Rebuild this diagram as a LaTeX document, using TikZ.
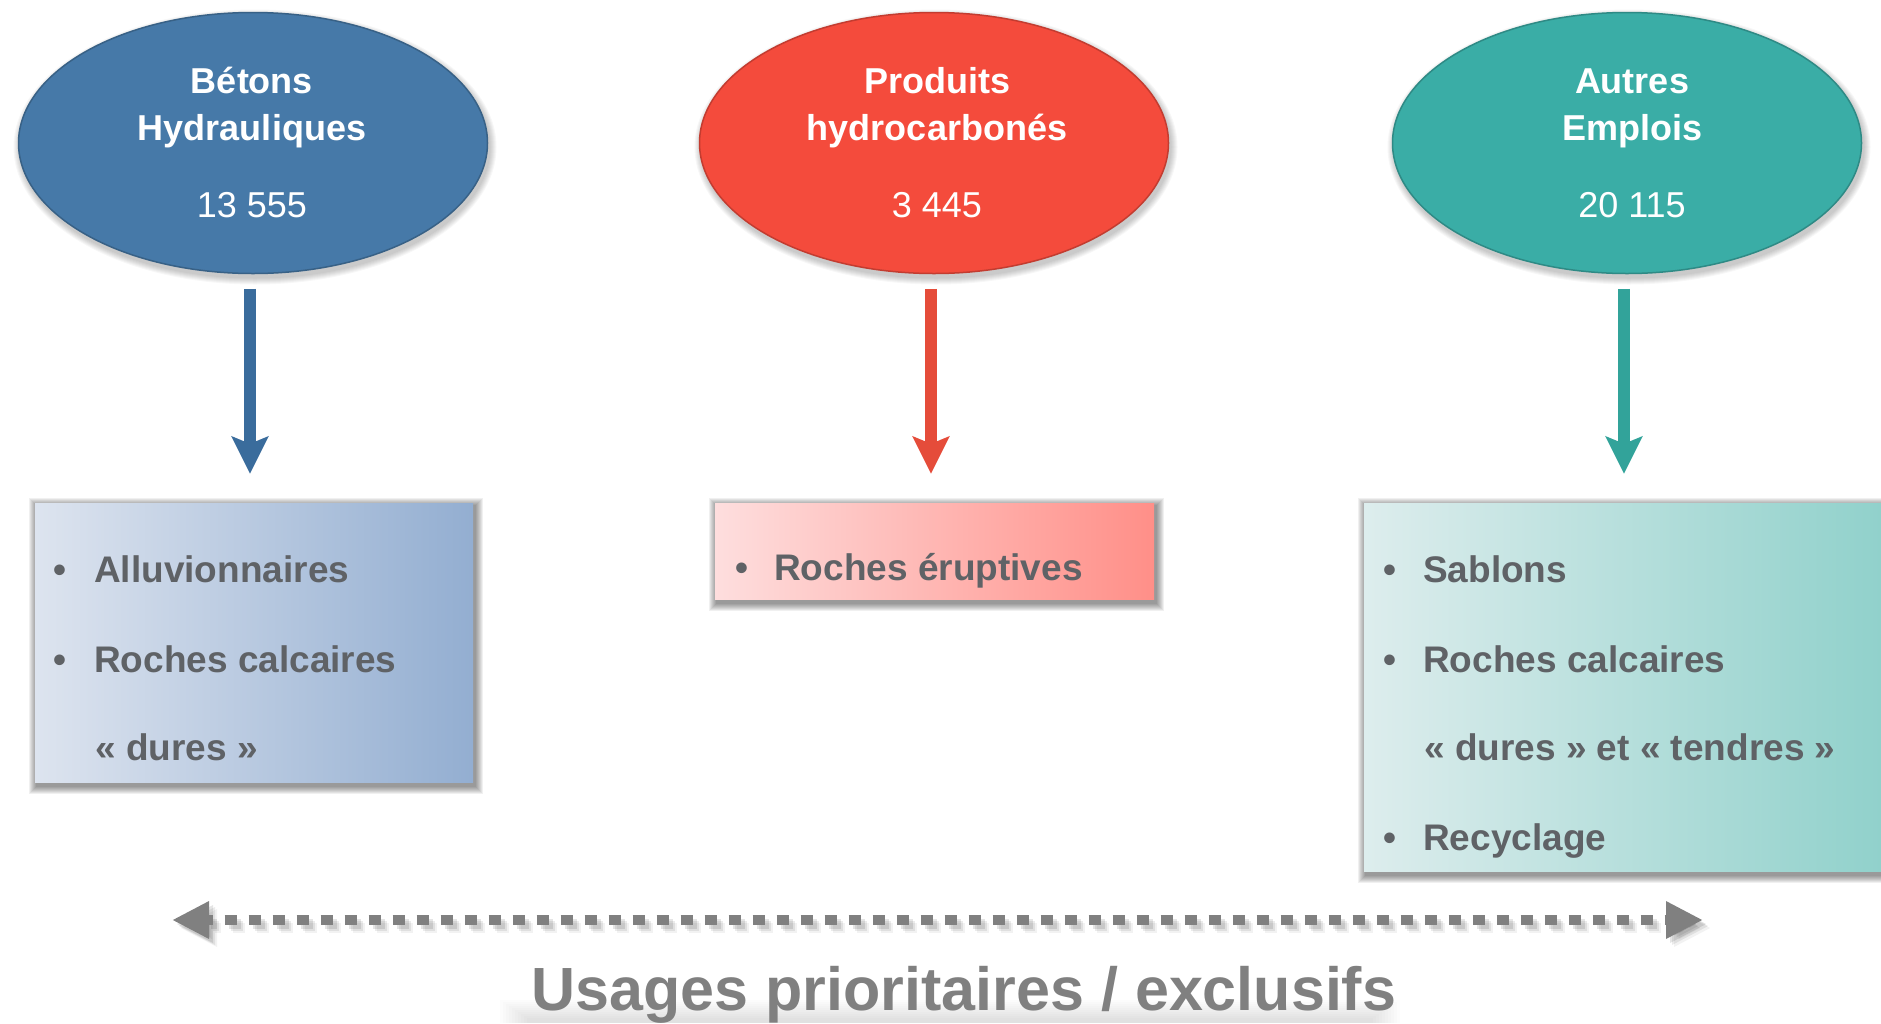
\documentclass[tikz,border=0pt]{standalone}
\usepackage{fontspec}
\setmainfont{Liberation Sans}
\usetikzlibrary{arrows.meta,shapes.geometric}
\definecolor{eblue}{HTML}{4679A8}
\definecolor{ered}{HTML}{F44B3C}
\definecolor{eteal}{HTML}{3AADA6}
\definecolor{ablue}{HTML}{3A6C9C}
\definecolor{ared}{HTML}{E54C3A}
\definecolor{ateal}{HTML}{32A39A}
\definecolor{txtgray}{HTML}{5F6266}
\definecolor{dashgray}{HTML}{808080}
\definecolor{b1l}{HTML}{DDE4EF}
\definecolor{b1r}{HTML}{93AED1}
\definecolor{b2l}{HTML}{FEDEDE}
\definecolor{b2r}{HTML}{FF8F88}
\definecolor{b3l}{HTML}{DDEDED}
\definecolor{b3r}{HTML}{8ED0CA}
\tikzset{
  ellnode/.style={ellipse, minimum width=469pt, minimum height=261pt, inner sep=0pt, line width=1.5pt},
  etitle/.style={text=white, font=\fontsize{36}{40}\selectfont\bfseries, anchor=base, inner sep=0pt},
  enum/.style={text=white, font=\fontsize{36}{40}\selectfont, anchor=base, inner sep=0pt},
  bullettxt/.style={text=txtgray, font=\fontsize{37}{40}\selectfont\bfseries, anchor=base, inner sep=0pt},
  itemtxt/.style={text=txtgray, font=\fontsize{37}{40}\selectfont\bfseries, anchor=base west, inner sep=0pt},
  boxnode/.style={rectangle, inner sep=0pt},
  flow/.style={line width=12pt, -{Stealth[length=37pt,width=36pt,inset=7pt]}, shorten <=14.5pt, shorten >=29pt},
}
\newcommand{\softshadowrect}[4]{%
  \foreach \i in {1,...,8} {
    \fill[black, opacity=0.06] ({#1-\i+2},{#2-\i+3}) rectangle ({#3+\i+2},{#4+\i+4});
  }
}
\newcommand{\softshadowell}[4]{%
  \foreach \i in {1,...,7} {
    \fill[black, opacity=0.03] ({#1+2},{#2+4}) ellipse [x radius={#3+\i}, y radius={#4+\i}];
  }
}
\begin{document}
\begin{tikzpicture}[x=1pt,y=-1pt]
\useasboundingbox (0,0) rectangle (1881,1023);
\fill[white] (0,0) rectangle (1881,1023);

% ellipse shadows
\softshadowell{253}{143}{234.5}{130.5}
\softshadowell{934}{143}{234.5}{130.5}
\softshadowell{1627}{143}{234.5}{130.5}

% ellipses
\node[ellnode, fill=eblue, draw=eblue!80!black] (e1) at (253,143) {};
\node[ellnode, fill=ered, draw=ered!80!black] (e2) at (934,143) {};
\node[ellnode, fill=eteal, draw=eteal!80!black] (e3) at (1627,143) {};
\draw[white, opacity=0.25, line width=3pt] (253,143) ++(160:230) arc[start angle=160, end angle=20, x radius=230, y radius=126];
\draw[white, opacity=0.25, line width=3pt] (934,143) ++(160:230) arc[start angle=160, end angle=20, x radius=230, y radius=126];
\draw[white, opacity=0.25, line width=3pt] (1627,143) ++(160:230) arc[start angle=160, end angle=20, x radius=230, y radius=126];

\node[etitle] (t1a) at (252,93) {Bétons};
\node[etitle] (t1b) at (252,140) {Hydrauliques};
\node[enum] (n1) at (252,217) {13 555};
\node[etitle] (t2a) at (937,93) {Produits};
\node[etitle] (t2b) at (937,140) {hydrocarbonés};
\node[enum] (n2) at (937,217) {3 445};
\node[etitle] (t3a) at (1632,93) {Autres};
\node[etitle] (t3b) at (1632,140) {Emplois};
\node[enum] (n3) at (1632,217) {20 115};

% box shadows
\softshadowrect{35}{503}{473}{782}
\softshadowrect{715}{503}{1154}{599}
\softshadowrect{1364}{503}{1900}{871}

% boxes
\node[boxnode, minimum width=438pt, minimum height=279pt, left color=b1l, right color=b1r] (b1) at (254,642.5) {};
\node[boxnode, minimum width=439pt, minimum height=96pt, left color=b2l, right color=b2r] (b2) at (934.5,551) {};
\node[boxnode, minimum width=536pt, minimum height=368pt, left color=b3l, right color=b3r] (b3) at (1632,687) {};

% arrows
\draw[flow, ablue] (e1.south) ++(-3,0) coordinate (a1) -- (a1 |- b1.north);
\draw[flow, ared] (e2.south) ++(-3,0) coordinate (a2) -- (a2 |- b2.north);
\draw[flow, ateal] (e3.south) ++(-3,0) coordinate (a3) -- (a3 |- b3.north);

% box texts
\node[bullettxt] (p1a) at (60,582) {•};
\node[itemtxt] (i1a) at (94,582) {Alluvionnaires};
\node[bullettxt] (p1b) at (60,672) {•};
\node[itemtxt] (i1b) at (94,672) {Roches calcaires};
\node[itemtxt] (i1c) at (95,760) {« dures »};

\node[bullettxt] (p2a) at (742,580) {•};
\node[itemtxt] (i2a) at (774,580) {Roches éruptives};

\node[bullettxt] (p3a) at (1390,582) {•};
\node[itemtxt] (i3a) at (1423,582) {Sablons};
\node[bullettxt] (p3b) at (1390,672) {•};
\node[itemtxt] (i3b) at (1423,672) {Roches calcaires};
\node[itemtxt] (i3c) at (1424,760) {« dures » et « tendres »};
\node[bullettxt] (p3d) at (1390,850) {•};
\node[itemtxt] (i3d) at (1423,850) {Recyclage};

% dashed double arrow
\coordinate (dl) at (172,920);
\coordinate (dr) at (1703,920);
\foreach \o/\op in {4/0.10,6/0.08,8/0.05} {
  \draw[black, opacity=\op, line width=10pt, dash pattern=on 12pt off 12pt, dash phase=6pt,
        {Triangle[length=37pt,width=35pt]}-{Triangle[length=37pt,width=35pt]}]
        ([shift={(\o,\o)}]dl) -- ([shift={(\o,\o)}]dr);
}
\draw[dashgray, line width=10pt, dash pattern=on 12pt off 12pt, dash phase=6pt,
      {Triangle[length=37pt,width=35pt]}-{Triangle[length=37pt,width=35pt]}] (dl) -- (dr);

% bottom caption with soft reflection band
\foreach \i in {0,...,9} {
  \fill[black, opacity=0.012] ({500+3*\i},{1000+2*\i}) rectangle ({1400-3*\i},1023);
}
\node[anchor=base, inner sep=0pt, text=dashgray, font=\fontsize{61}{64}\selectfont\bfseries] (cap) at (964,1010) {Usages prioritaires / exclusifs};
\end{tikzpicture}
\end{document}
